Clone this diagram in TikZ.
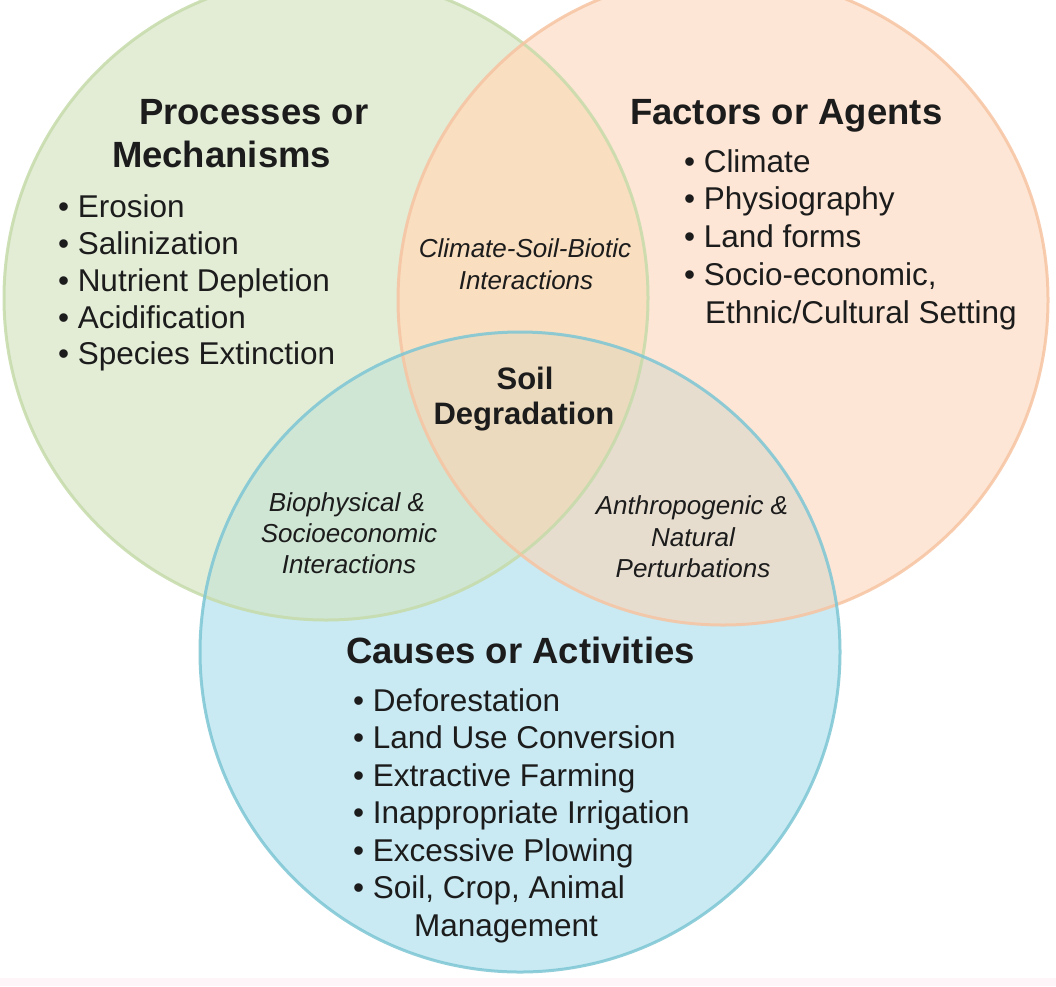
\documentclass[tikz,border=0pt]{standalone}
\usepackage{fontspec}
\setmainfont{Liberation Sans}
\definecolor{gfill}{RGB}{227,237,214}
\definecolor{ofill}{RGB}{253,230,213}
\definecolor{bfill}{RGB}{201,234,243}
\definecolor{gofill}{RGB}{249,222,192}
\definecolor{gbfill}{RGB}{207,230,212}
\definecolor{obfill}{RGB}{231,221,207}
\definecolor{allfill}{RGB}{235,218,190}
\definecolor{gline}{RGB}{198,219,170}
\definecolor{oline}{RGB}{246,196,162}
\definecolor{bline}{RGB}{125,198,212}
\definecolor{txtc}{RGB}{28,28,28}
\definecolor{stripc}{RGB}{253,245,247}
\tikzset{
  txt/.style={inner sep=0pt, outer sep=0pt, text=txtc},
  head/.style={txt, anchor=base west, font=\fontsize{36.5}{40}\selectfont\bfseries},
  item/.style={txt, anchor=base west, font=\fontsize{31.5}{36}\selectfont},
  itemc/.style={txt, anchor=base, font=\fontsize{31.5}{36}\selectfont},
  inter/.style={txt, anchor=base, font=\fontsize{26}{30}\selectfont\itshape},
  core/.style={txt, anchor=base, font=\fontsize{31}{35}\selectfont\bfseries},
  ring/.style={line width=3pt, draw opacity=0.85}
}
\begin{document}
\begin{tikzpicture}[x=1pt,y=-1pt]
\useasboundingbox (0,0) rectangle (1056,986);
\fill[white] (0,0) rectangle (1056,986);
\fill[stripc] (0,978) rectangle (1056,986);
\coordinate (G) at (326,298);
\coordinate (O) at (723,300);
\coordinate (B) at (520,652);
% base fills
\fill[gfill] (G) circle (322pt);
\fill[ofill] (O) circle (325pt);
\fill[bfill] (B) circle (320pt);
% pairwise overlaps
\begin{scope}
  \clip (G) circle (322pt);
  \fill[gofill] (O) circle (325pt);
  \fill[gbfill] (B) circle (320pt);
\end{scope}
\begin{scope}
  \clip (O) circle (325pt);
  \fill[obfill] (B) circle (320pt);
\end{scope}
\begin{scope}
  \clip (G) circle (322pt);
  \clip (O) circle (325pt);
  \fill[allfill] (B) circle (320pt);
\end{scope}
% outlines
\draw[ring, gline] (G) circle (322pt);
\draw[ring, oline] (O) circle (325pt);
\draw[ring, bline] (B) circle (320pt);

% Processes or Mechanisms
\node[head] (p1) at (139,124) {Processes or};
\node[head] (p2) at (112,167) {Mechanisms};
\node[item] (pa) at (58,217) {• Erosion};
\node[item] (pb) at (58,254) {• Salinization};
\node[item] (pc) at (58,291) {• Nutrient Depletion};
\node[item] (pd) at (58,328) {• Acidification};
\node[item] (pe) at (58,364) {• Species Extinction};

% Factors or Agents
\node[head] (f1) at (630,124) {Factors or Agents};
\node[item] (fa) at (684,172) {• Climate};
\node[item] (fb) at (684,209) {• Physiography};
\node[item] (fc) at (684,247) {• Land forms};
\node[item] (fd) at (684,285) {• Socio-economic,};
\node[item] (fe) at (705,323) {Ethnic/Cultural Setting};

% Causes or Activities
\node[head] (c1) at (346,663) {Causes or Activities};
\node[item] (ca) at (353,711) {• Deforestation};
\node[item] (cb) at (353,748) {• Land Use Conversion};
\node[item] (cc) at (353,786) {• Extractive Farming};
\node[item] (cd) at (353,823) {• Inappropriate Irrigation};
\node[item] (ce) at (353,861) {• Excessive Plowing};
\node[item] (cf) at (353,898) {• Soil, Crop, Animal};
\node[itemc] (cg) at (506,936) {Management};

% Interactions
\node[inter] (i1) at (525,257) {Climate-Soil-Biotic};
\node[inter] (i2) at (526,289) {Interactions};
\node[inter] (j1) at (347,511) {Biophysical \&};
\node[inter] (j2) at (349,542) {Socioeconomic};
\node[inter] (j3) at (349,573) {Interactions};
\node[inter] (k1) at (692,514) {Anthropogenic \&};
\node[inter] (k2) at (693,546) {Natural};
\node[inter] (k3) at (693,577) {Perturbations};

% Core
\node[core] (s1) at (525,389) {Soil};
\node[core] (s2) at (524,424) {Degradation};
\end{tikzpicture}
\end{document}
